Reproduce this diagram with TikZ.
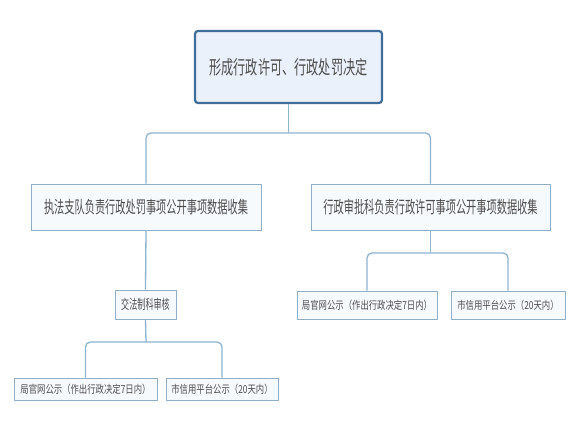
\documentclass[tikz,border=0pt]{standalone}
\usepackage{fontspec}
\setmainfont{Noto Sans CJK SC}
\newfontfamily\fntA[FakeStretch=0.64]{Noto Sans CJK SC}
\newfontfamily\fntB[FakeStretch=0.6]{Noto Sans CJK SC}
\newfontfamily\fntC[FakeStretch=0.76]{Noto Sans CJK SC}
\usepackage{xcolor}
\definecolor{rootline}{RGB}{62,110,153}
\definecolor{rootfill}{RGB}{234,241,250}
\definecolor{boxline}{RGB}{141,176,200}
\definecolor{boxfill}{RGB}{247,250,253}
\definecolor{linkline}{RGB}{140,180,207}
\definecolor{txt}{RGB}{77,77,77}
\usepackage{tikz}
\usetikzlibrary{positioning}

\begin{document}
\begin{tikzpicture}[x=1pt,y=-1pt,
  rootbox/.style={draw=rootline,line width=2.2pt,rounded corners=3pt,fill=rootfill,
    text=txt,inner sep=0pt,font=\fntA\fontsize{19}{19}\selectfont},
  itembox/.style={draw=boxline,line width=0.9pt,fill=boxfill,text=txt,inner sep=0pt},
  link/.style={draw=linkline,line width=1.3pt,rounded corners=5pt}]
  \useasboundingbox[fill=white] (0,0) rectangle (579,435);
  % top level
  \node[rootbox,minimum width=187pt,minimum height=72pt] (root) at (288.5,67) {形成行政许可、行政处罚决定};
  \node[itembox,minimum width=230pt,minimum height=46pt,font=\fntB\fontsize{17}{17}\selectfont] (zfzd) at (146,207) {执法支队负责行政处罚事项公开事项数据收集};
  \node[itembox,minimum width=239pt,minimum height=46pt,font=\fntB\fontsize{17}{17}\selectfont] (xzsp) at (430.5,207) {行政审批科负责行政许可事项公开事项数据收集};
  % left branch
  \node[itembox,minimum width=61pt,minimum height=29pt,font=\fntB\fontsize{13.5}{13.5}\selectfont] (zfsh) at (145.5,304.5) {交法制科审核};
  \node[itembox,minimum width=143pt,minimum height=22pt,font=\fntC\fontsize{11}{11}\selectfont] (zfgw) at (85.5,389) {局官网公示（作出行政决定7日内）};
  \node[itembox,minimum width=112pt,minimum height=22pt,font=\fntC\fontsize{11}{11}\selectfont] (zfxy) at (222,389) {市信用平台公示（20天内）};
  % right branch
  \node[itembox,minimum width=140pt,minimum height=28pt,font=\fntC\fontsize{11}{11}\selectfont] (spgw) at (367,305) {局官网公示（作出行政决定7日内）};
  \node[itembox,minimum width=114pt,minimum height=28pt,font=\fntC\fontsize{11}{11}\selectfont] (spxy) at (508,305) {市信用平台公示（20天内）};
  % connectors
  \coordinate (j0) at (288.5,133);
  \coordinate (j1) at (146,342);
  \coordinate (j2) at (430.5,253);
  \draw[link] (root.south) -- (j0);
  \draw[link] (j0) -| (zfzd.north);
  \draw[link] (j0) -| (xzsp.north);
  \draw[link] (zfzd.south) -- (zfsh.north);
  \draw[link] (zfsh.south) -- (j1);
  \draw[link] (j1) -| (zfgw.north);
  \draw[link] (j1) -| (zfxy.north);
  \draw[link] (xzsp.south) -- (j2);
  \draw[link] (j2) -| (spgw.north);
  \draw[link] (j2) -| (spxy.north);
\end{tikzpicture}
\end{document}
